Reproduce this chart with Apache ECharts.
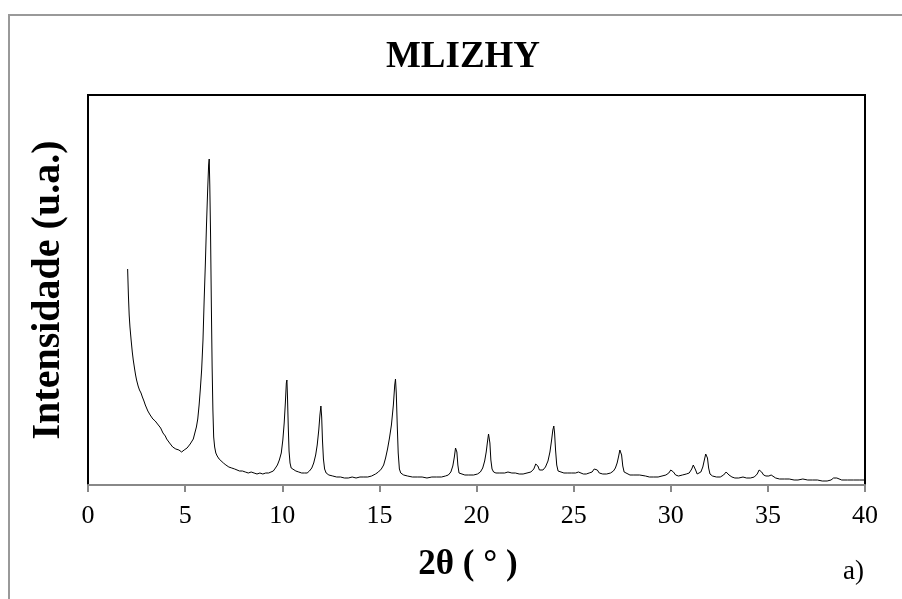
<!DOCTYPE html>
<html>
<head>
<meta charset="utf-8">
<script src="https://cdn.jsdelivr.net/npm/echarts@6/dist/echarts.min.js"></script>
<style>
  html, body { margin: 0; padding: 0; background: #fff; }
  #chart { width: 902px; height: 599px; }
</style>
</head>
<body>
<div id="chart"></div>
<script>
// X-ray diffraction pattern of sample MLIZHY (2θ in degrees, intensity in arbitrary units)
const twoTheta = [
  2.04, 2.08, 2.12, 2.16, 2.22, 2.28, 2.33, 2.40, 2.45, 2.50, 2.58, 2.65, 2.73, 2.80, 2.88, 2.95,
  3.02, 3.08, 3.14, 3.20, 3.28, 3.34, 3.40, 3.46, 3.52, 3.58, 3.62, 3.68, 3.74, 3.80, 3.86, 3.92,
  3.98, 4.05, 4.12, 4.20, 4.28, 4.36, 4.44, 4.52, 4.60, 4.68, 4.76, 4.82, 4.88, 4.95, 5.02, 5.10,
  5.18, 5.26, 5.34, 5.42, 5.50, 5.58, 5.65, 5.72, 5.78, 5.85, 5.92, 5.98, 6.04, 6.10, 6.16, 6.21,
  6.24, 6.27, 6.31, 6.35, 6.39, 6.43, 6.47, 6.52, 6.58, 6.65, 6.75, 6.85, 6.97, 7.10, 7.25, 7.40,
  7.55, 7.65, 7.80, 7.95, 8.10, 8.25, 8.40, 8.55, 8.70, 8.85, 9.00, 9.15, 9.30, 9.42, 9.54, 9.65,
  9.75, 9.85, 9.95, 10.03, 10.10, 10.16, 10.21, 10.24, 10.27, 10.31, 10.35, 10.40, 10.46, 10.55, 10.70, 10.85,
  11.00, 11.15, 11.28, 11.40, 11.52, 11.62, 11.72, 11.80, 11.88, 11.94, 11.99, 12.03, 12.07, 12.12, 12.18, 12.26,
  12.40, 12.60, 12.80, 13.00, 13.20, 13.40, 13.60, 13.80, 14.00, 14.20, 14.40, 14.60, 14.80, 14.95, 15.10, 15.22,
  15.32, 15.42, 15.52, 15.62, 15.72, 15.79, 15.83, 15.87, 15.92, 15.97, 16.03, 16.10, 16.25, 16.45, 16.70, 16.95,
  17.20, 17.45, 17.70, 17.95, 18.20, 18.40, 18.55, 18.68, 18.78, 18.86, 18.92, 18.95, 18.99, 19.04, 19.10, 19.20,
  19.40, 19.60, 19.85, 20.05, 20.20, 20.32, 20.42, 20.50, 20.57, 20.62, 20.65, 20.69, 20.74, 20.80, 20.88, 21.00,
  21.20, 21.45, 21.62, 21.72, 21.82, 22.00, 22.20, 22.40, 22.60, 22.80, 22.95, 23.05, 23.10, 23.16, 23.24, 23.32,
  23.42, 23.55, 23.68, 23.78, 23.86, 23.93, 23.98, 24.02, 24.07, 24.13, 24.20, 24.30, 24.50, 24.70, 24.90, 25.10,
  25.25, 25.35, 25.50, 25.65, 25.80, 25.95, 26.06, 26.14, 26.22, 26.32, 26.50, 26.70, 26.90, 27.05, 27.15, 27.24,
  27.32, 27.38, 27.42, 27.47, 27.53, 27.60, 27.70, 27.90, 28.10, 28.40, 28.70, 28.90, 29.10, 29.35, 29.55, 29.75,
  29.90, 30.00, 30.06, 30.14, 30.25, 30.40, 30.60, 30.80, 30.95, 31.08, 31.16, 31.21, 31.28, 31.36, 31.45, 31.55,
  31.65, 31.73, 31.80, 31.84, 31.89, 31.95, 32.02, 32.15, 32.35, 32.55, 32.72, 32.85, 32.92, 33.00, 33.15, 33.30,
  33.50, 33.72, 33.90, 34.10, 34.30, 34.45, 34.55, 34.60, 34.68, 34.78, 34.90, 35.05, 35.17, 35.26, 35.40, 35.60,
  35.85, 36.10, 36.35, 36.55, 36.80, 37.05, 37.30, 37.55, 37.80, 38.05, 38.25, 38.38, 38.46, 38.55, 38.65, 38.80,
  39.10, 39.40, 39.70, 40.00
];
const intensity = [
  216, 190, 170, 158, 145, 133, 125, 116, 110, 105, 99, 95, 92, 88, 84, 80,
  78, 74, 73, 70, 68, 66, 67, 64, 63, 61, 62, 59, 57, 56, 52, 51,
  49, 46, 45, 42, 40, 38, 37, 36, 34, 35, 33, 33, 34, 35, 36, 37,
  39, 41, 43, 46, 52, 58, 66, 80, 95, 115, 145, 185, 220, 260, 295, 320,
  326, 300, 250, 180, 118, 75, 48, 38, 32, 29, 26, 24, 22, 20, 18, 17,
  16, 15, 14, 14, 13, 12, 13, 12, 11, 12, 11, 12, 12, 13, 14, 17,
  20, 25, 32, 45, 62, 82, 102, 105, 88, 58, 34, 22, 17, 15, 14, 13,
  12, 12, 12, 14, 17, 22, 30, 40, 55, 70, 79, 68, 45, 26, 16, 12,
  10, 9, 8, 8, 7, 7, 8, 7, 8, 8, 8, 9, 11, 13, 16, 20,
  27, 36, 47, 60, 80, 100, 106, 92, 60, 32, 16, 12, 10, 9, 8, 8,
  8, 7, 8, 8, 8, 9, 10, 13, 19, 28, 37, 39, 33, 20, 12, 10,
  10, 10, 10, 11, 13, 17, 24, 33, 44, 51, 52, 42, 25, 16, 13, 12,
  12, 12, 13, 14, 12, 12, 11, 11, 12, 13, 16, 21, 22, 19, 15, 14,
  15, 18, 24, 33, 44, 55, 59, 52, 35, 20, 14, 12, 12, 12, 12, 12,
  13, 13, 11, 11, 12, 13, 16, 18, 15, 12, 11, 11, 12, 14, 17, 22,
  29, 35, 36, 30, 19, 13, 11, 10, 10, 10, 9, 8, 8, 8, 9, 10,
  12, 15, 16, 13, 10, 9, 10, 11, 12, 16, 20, 20, 15, 11, 11, 13,
  18, 25, 31, 32, 27, 17, 11, 9, 8, 8, 10, 13, 13, 10, 8, 7,
  7, 8, 7, 7, 8, 11, 15, 16, 13, 10, 9, 9, 10, 9, 7, 6,
  6, 6, 5, 5, 6, 5, 5, 5, 4, 4, 5, 7, 8, 7, 5, 5,
  5, 5, 5, 5
];
const xTicks = { min: 0, max: 40, step: 5 };

const serif = '"Liberation Serif", "Times New Roman", serif';
const points = twoTheta.map((t, i) => [t, intensity[i]]);

const chart = echarts.init(document.getElementById('chart'), null, { renderer: 'canvas' });
chart.setOption({
  animation: false,
  backgroundColor: '#fff',
  title: {
    text: 'MLIZHY',
    left: 458,
    textAlign: 'center',
    top: 34,
    textStyle: { fontFamily: serif, fontWeight: 'bold', fontSize: 37, color: '#000' }
  },
  grid: {
    left: 88, right: 37, top: 95, bottom: 114,
    show: true, borderColor: '#000', borderWidth: 2, backgroundColor: 'transparent'
  },
  xAxis: {
    type: 'value',
    min: xTicks.min, max: xTicks.max, interval: xTicks.step,
    name: '2θ ( ° )',
    nameLocation: 'middle',
    nameGap: 62,
    nameTextStyle: { fontFamily: serif, fontWeight: 'bold', fontSize: 35, color: '#000', padding: [0, 17, 0, 0] },
    axisLine: { show: true, lineStyle: { color: '#888', width: 2 } },
    axisTick: { show: true, length: 7, lineStyle: { color: '#888', width: 2 } },
    axisLabel: { margin: 18, fontFamily: serif, fontSize: 26, color: '#000' },
    splitLine: { show: false }
  },
  yAxis: {
    type: 'value',
    min: 0, max: 390,
    name: 'Intensidade (u.a.)',
    nameLocation: 'middle',
    nameGap: 19,
    nameTextStyle: { fontFamily: serif, fontWeight: 'bold', fontSize: 40, color: '#000' },
    axisLine: { show: true, lineStyle: { color: '#000', width: 2 } },
    axisTick: { show: false },
    axisLabel: { show: false },
    splitLine: { show: false }
  },
  graphic: [
    {
      type: 'rect',
      shape: { x: 9, y: 15, width: 1000, height: 1000 },
      style: { fill: 'none', stroke: '#999', lineWidth: 2 },
      silent: true
    },
    {
      type: 'text',
      left: 843, top: 558,
      style: { text: 'a)', font: '27px ' + serif, fill: '#000' }
    }
  ],
  series: [{
    type: 'line',
    data: points,
    symbol: 'none',
    smooth: false,
    lineStyle: { color: '#000', width: 1 }
  }]
});
</script>
</body>
</html>
